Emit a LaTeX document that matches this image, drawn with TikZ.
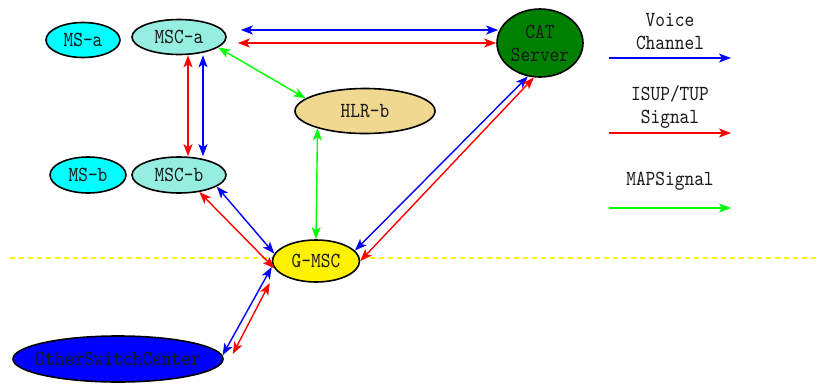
\documentclass[tikz,border=0pt]{standalone}
\usepackage{fontspec}
\setmonofont{lmmono10-regular}[Extension=.otf,FakeStretch=0.86]
\usetikzlibrary{calc,shapes.geometric,arrows.meta}
\definecolor{mscfill}{RGB}{150,238,225}
\definecolor{msfill}{RGB}{0,255,255}
\definecolor{hlrfill}{RGB}{240,216,144}
\definecolor{catfill}{RGB}{0,128,0}
\definecolor{oscfill}{RGB}{0,0,255}
\begin{document}
\begin{tikzpicture}[x=1pt,y=-1pt,
	every node/.style={font=\ttfamily\fontsize{21.5}{23}\selectfont,text=black!90},
	ell/.style={ellipse,draw=black,line width=1.6pt,inner sep=0pt,align=center},
	link/.style={line width=1.4pt,{Stealth[length=12pt,width=9pt,inset=3pt]}-{Stealth[length=12pt,width=9pt,inset=3pt]}},
	leg/.style={line width=1.4pt,-{Stealth[length=12pt,width=9pt,inset=3pt]}}]
		\useasboundingbox (0,0) rectangle (819,383);
		\draw[yellow,line width=1.5pt,dash pattern=on 5pt off 4pt] (10,258) -- (819,258);
		\path
		(83,40) node[ell,fill=msfill,minimum width=74,minimum height=35] (msa) {MS-a}
		(179,37) node[ell,fill=mscfill,minimum width=94,minimum height=35] (msca) {MSC-a}
		(88,175) node[ell,fill=msfill,minimum width=76,minimum height=36] (msb) {MS-b}
		(179,175) node[ell,fill=mscfill,minimum width=94,minimum height=36] (mscb) {MSC-b}
		(365,111) node[ell,fill=hlrfill,minimum width=140,minimum height=45] (hlr) {HLR-b}
		(540,43) node[ell,fill=catfill,inner ysep=-3pt,minimum width=86,minimum height=68] (cat) {CAT\\Server}
		(316,261) node[ell,fill=yellow,minimum width=87,minimum height=42] (gmsc) {G-MSC}
		(118,359) node[ell,fill=oscfill,inner xsep=-12pt,inner ysep=-4pt,minimum width=210,minimum height=46] (osc) {OtherSwitchCenter};
		% links
		\draw[link,blue] ($(msca.east)+(14,-7)$) -- ($(cat.west)+(2,-13)$);
		\draw[link,red] ($(msca.east)+(11,6)$) -- (cat.west);
		\draw[link,red] ($(msca.south)+(9,0)$) -- ($(mscb.north)+(9,0)$);
		\draw[link,blue] ($(msca.south)+(24,0)$) -- ($(mscb.north)+(24,0)$);
		\draw[link,green] (msca.-15) -- (hlr.168);
		\draw[link,green] (hlr.200) -- (gmsc.north);
		\draw[link,blue] (mscb.-17) -- (gmsc.170);
		\draw[link,red] (mscb.-40) -- (gmsc.190);
		\draw[link,blue] (cat.-110) -- (gmsc.15);
		\draw[link,red] (cat.-100) -- (gmsc.east);
		\draw[link,blue] ($(gmsc.west)+(0,6)$) -- (osc.2);
		\draw[link,red] ($(gmsc.west)+(-2,22)$) -- ($(osc.east)+(9,-5)$);
		% legend
		\foreach \n/\c/\y/\ty/\t in {v/blue/58/32/{Voice\\Channel},i/red/133/107/{ISUP/TUP\\Signal},m/green/208/181/{MAPSignal}}{
			\coordinate (\n0) at (609,\y);
			\coordinate (\n1) at (731,\y);
			\node[align=center] (\n t) at (670,\ty) {\t};
			\draw[leg,\c] (\n0) -- (\n1);
		}
	\end{tikzpicture}
\end{document}
